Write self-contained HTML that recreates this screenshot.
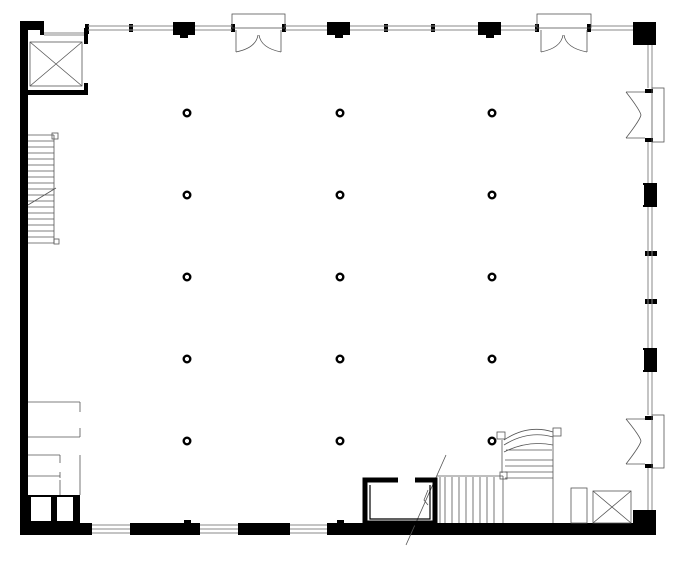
<!DOCTYPE html>
<html><head><style>html,body{margin:0;padding:0;background:#fff}svg{display:block}</style></head>
<body>
<svg width="679" height="580" viewBox="0 0 679 580" xmlns="http://www.w3.org/2000/svg">
<rect width="679" height="580" fill="#fff"/>
<g fill="#000">
<rect x="20" y="21" width="8" height="514"/>
<rect x="20" y="21" width="24" height="9"/>
<rect x="40" y="28" width="4" height="7"/>
<rect x="84" y="28" width="4" height="16"/>
<rect x="84" y="83" width="4" height="12"/>
<rect x="20" y="90" width="68" height="5"/>
<rect x="20" y="523" width="72" height="12"/>
<rect x="130" y="523" width="70" height="12"/>
<rect x="238" y="523" width="52" height="12"/>
<rect x="327" y="523" width="306" height="12"/>
<rect x="184" y="520" width="7" height="5"/>
<rect x="337" y="520" width="7" height="5"/>
<rect x="28" y="495" width="52" height="30"/>
<rect x="173" y="22" width="22" height="13"/><rect x="180" y="34" width="8" height="4"/>
<rect x="327" y="22" width="23" height="13"/><rect x="335" y="34" width="8" height="4"/>
<rect x="478" y="22" width="23" height="13"/><rect x="486" y="34" width="8" height="4"/>
<rect x="633" y="22" width="23" height="23"/>
<rect x="633" y="510" width="23" height="25"/>
<rect x="643" y="183" width="14" height="24"/>
<rect x="643" y="348" width="14" height="24"/>
<rect x="645" y="251" width="12" height="5"/>
<rect x="645" y="299" width="12" height="5"/>
<rect x="85" y="24" width="4" height="10"/><rect x="129" y="24" width="4" height="8"/>
<rect x="231" y="24" width="4" height="8"/><rect x="282" y="24" width="4" height="8"/>
<rect x="384" y="24" width="4" height="8"/><rect x="431" y="24" width="4" height="8"/>
<rect x="535" y="24" width="4" height="8"/><rect x="587" y="24" width="4" height="8"/>
<rect x="645" y="89" width="8" height="4"/><rect x="645" y="138" width="8" height="4"/>
<rect x="645" y="416" width="8" height="4"/><rect x="645" y="464" width="8" height="4"/>
</g>
<g fill="#fff">
<rect x="31" y="497" width="20" height="24"/><rect x="57" y="497" width="16" height="24"/>
<rect x="640" y="185" width="4" height="20"/><rect x="640" y="350" width="4" height="20"/>
</g>
<rect x="31" y="492" width="20" height="2" fill="#fff"/>
<g stroke="#888" stroke-width="1" fill="none">
<path d="M88 26H173M88 30H173M195 26H232M195 30H232M285 26H327M285 30H327M350 26H478M350 30H478M501 26H537M501 30H537M591 26H633M591 30H633"/>
<path d="M648 45V88M652 45V88M648 142V183M652 142V183M648 207V348M652 207V348M648 372V415M652 372V415M648 468V510M652 468V510"/>
<path d="M92 525H130M92 529H130M92 533H130M200 525H238M200 529H238M200 533H238M290 525H327M290 529H327M290 533H327"/>
<path d="M44 33H84M44 35H84"/>
</g>
<g stroke="#555" stroke-width="0.8" fill="none">
<rect x="232" y="14" width="53" height="14"/>
<path d="M236 30V52M281 30V52"/><path d="M236 52Q256 48 258 35M281 52Q261 48 259 35"/>
<rect x="537" y="14" width="54" height="14"/>
<path d="M541 30V52M587 30V52"/><path d="M541 52Q561 48 563 35M587 52Q566 48 564 35"/>
<rect x="652" y="88" width="12" height="54"/>
<path d="M645 92H626M645 138H626"/><path d="M626 92Q640 110 641 115M626 138Q640 120 641 115"/>
<rect x="652" y="415" width="12" height="53"/>
<path d="M645 419H626M645 464H626"/><path d="M626 419Q640 436 641 441M626 464Q640 446 641 441"/>
<rect x="30" y="42" width="52" height="44"/><path d="M30 42L82 86M82 42L30 86"/>
<rect x="593" y="491" width="38" height="32"/><path d="M593 491L631 523M631 491L593 523"/>
<rect x="571" y="488" width="16" height="35"/>
<path d="M28 135H54M28 141H54M28 147H54M28 153H54M28 159H54M28 165H54M28 171H54M28 177H54M28 183H54M28 189H54M28 195H54M28 201H54M28 207H54M28 213H54M28 219H54M28 225H54M28 231H54M28 237H54M28 243H54M54 135V243"/>
<path d="M28 205L56 188"/>
<rect x="52" y="133" width="6" height="6"/><rect x="54" y="239" width="5" height="5"/>
<path d="M28 402H80M80 402V412M28 437H80M80 428V437M28 455H60M60 455V463M28 476H60M60 472V478M80 455V495M60 480V495"/>
<path d="M437 476H503M440 477V523M445 477V523M452 477V523M459 477V523M466 477V523M473 477V523M480 477V523M487 477V523M494 477V523M503 476V523"/>
<rect x="500" y="472" width="7" height="7"/>
<path d="M502 440V473M553 436V523M504 440Q528 424 553 432M504 445Q528 430 553 437M504 452Q528 440 553 445M505 460H553M505 466H553M505 472H553M505 478H553M506 450H552"/>
<rect x="497" y="432" width="8" height="7"/><rect x="553" y="428" width="8" height="8"/>
<path d="M446 455L406 545M428 490L424 500L428 505"/>
</g>
<path d="M398 480H365V523H435V480H415" fill="none" stroke="#000" stroke-width="5"/>
<path d="M370 485V519H430V485" fill="none" stroke="#000" stroke-width="1.2"/>
<g fill="none" stroke="#000" stroke-width="2.4">
<circle cx="187" cy="113" r="3.3"/><circle cx="340" cy="113" r="3.3"/><circle cx="492" cy="113" r="3.3"/>
<circle cx="187" cy="195" r="3.3"/><circle cx="340" cy="195" r="3.3"/><circle cx="492" cy="195" r="3.3"/>
<circle cx="187" cy="277" r="3.3"/><circle cx="340" cy="277" r="3.3"/><circle cx="492" cy="277" r="3.3"/>
<circle cx="187" cy="359" r="3.3"/><circle cx="340" cy="359" r="3.3"/><circle cx="492" cy="359" r="3.3"/>
<circle cx="187" cy="441" r="3.3"/><circle cx="340" cy="441" r="3.3"/><circle cx="492" cy="441" r="3.3"/>
</g>
</svg>
</body></html>
